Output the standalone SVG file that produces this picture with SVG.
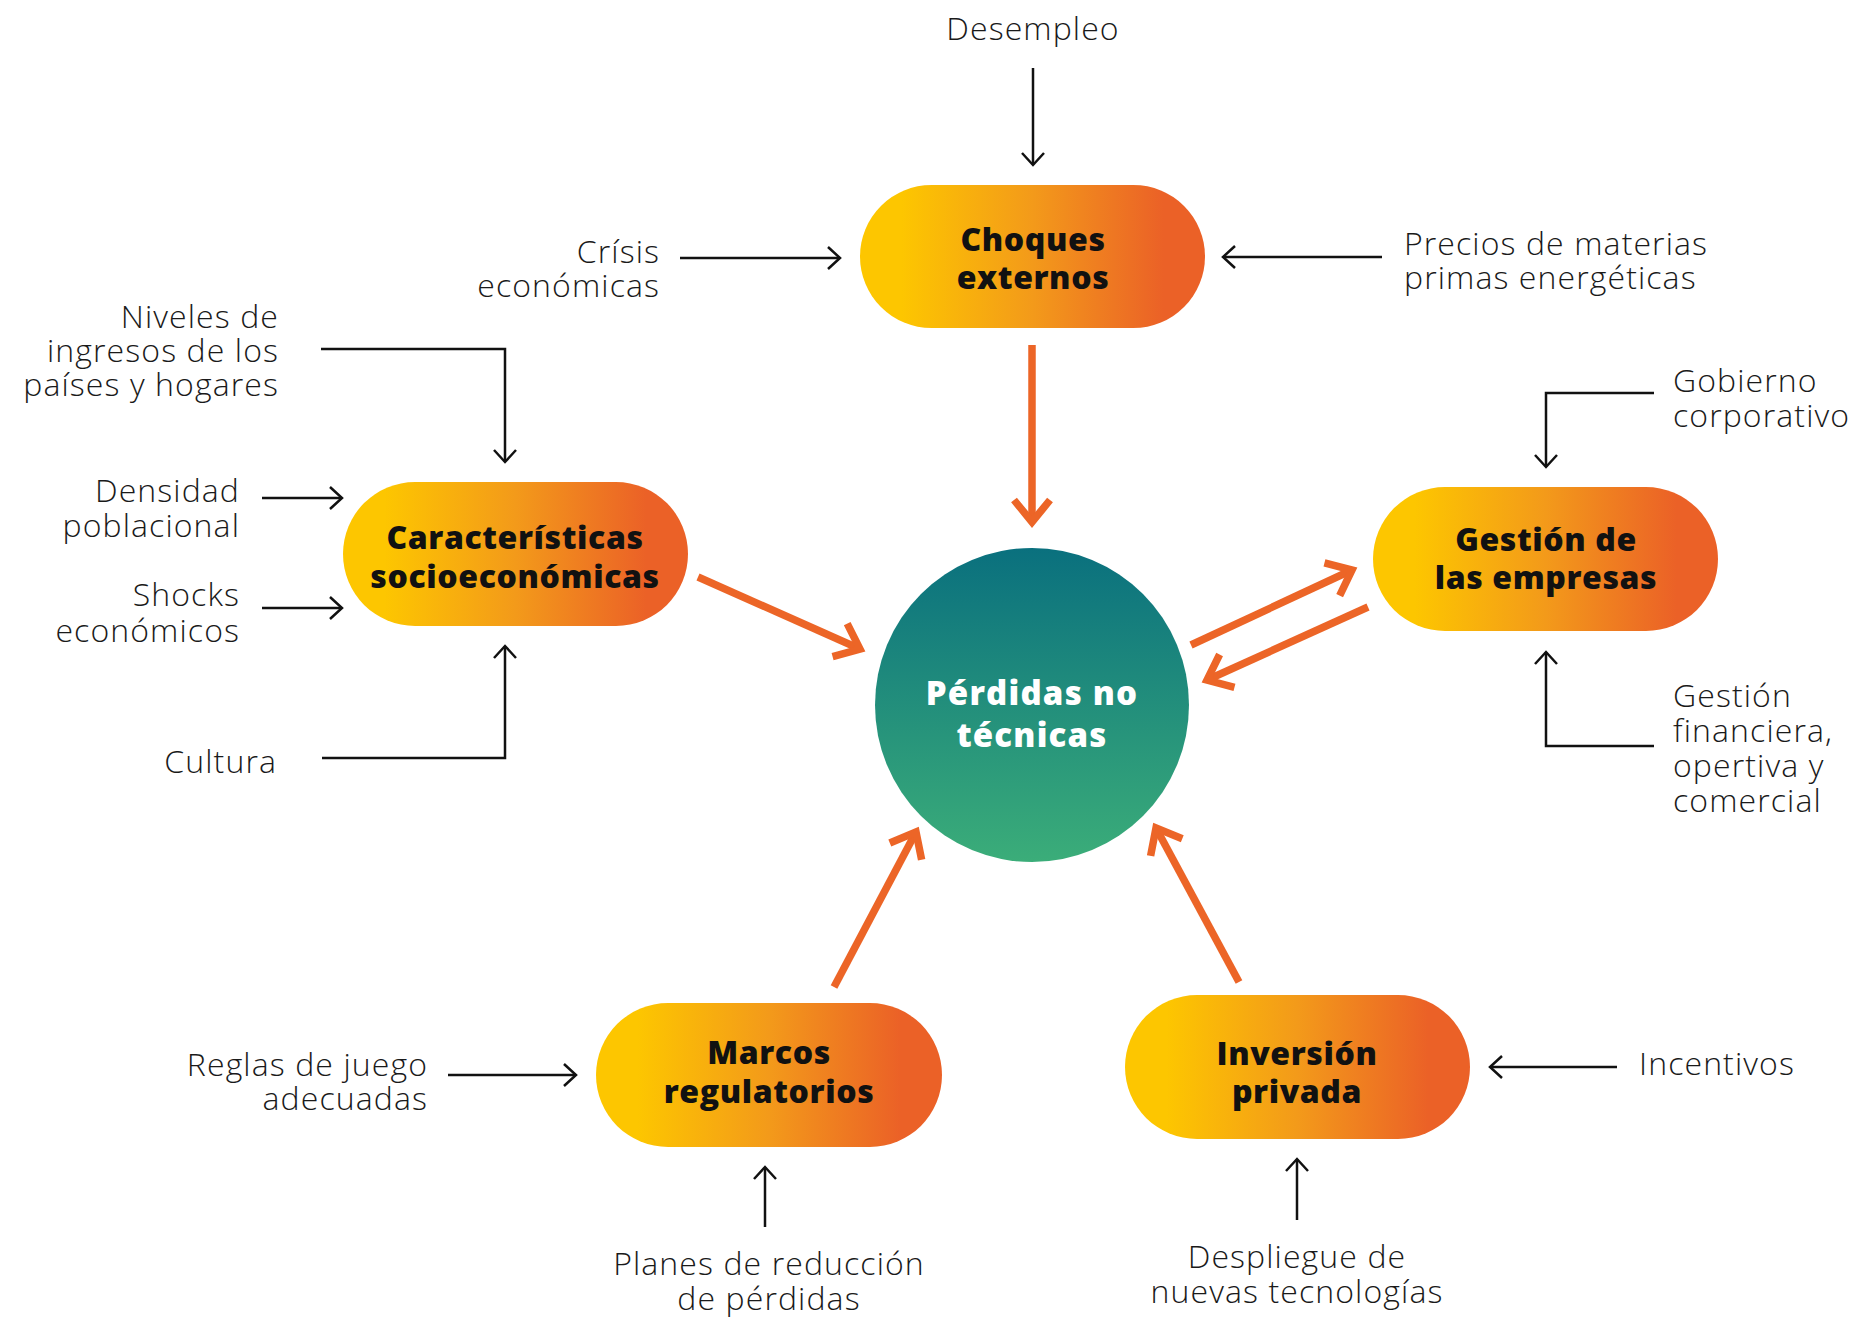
<svg xmlns="http://www.w3.org/2000/svg" width="1851" height="1317" viewBox="0 0 1851 1317">
<defs>
<linearGradient id="pillGrad" x1="0" y1="0" x2="1" y2="0">
<stop offset="0.12" stop-color="#FDC600"/>
<stop offset="0.5" stop-color="#F39A1A"/>
<stop offset="0.88" stop-color="#EB6127"/>
</linearGradient>
<linearGradient id="circGrad" x1="0" y1="0" x2="0" y2="1">
<stop offset="0" stop-color="#0A707E"/>
<stop offset="1" stop-color="#3BAD79"/>
</linearGradient>
<marker id="blackHead" markerUnits="userSpaceOnUse" viewBox="-16 -14 20 28" refX="0" refY="0" markerWidth="20" markerHeight="28" orient="auto">
<path d="M-12,-11 L0,0 L-12,11" fill="none" stroke="#111" stroke-width="2.5"/>
</marker>
<marker id="orangeHead" markerUnits="userSpaceOnUse" viewBox="-30 -26 40 52" refX="0" refY="0" markerWidth="40" markerHeight="52" orient="auto">
<path d="M-22,-18 L0,0 L-22,18" fill="none" stroke="#EC6527" stroke-width="7.5"/>
</marker>
</defs>
<style>
.pill{fill:url(#pillGrad);}
.ptxt{font-family:"Open Sans","Noto Sans",sans-serif;font-weight:800;font-size:32px;fill:#111;text-anchor:middle;letter-spacing:0.6px;}
.lbl{font-family:"Open Sans","Noto Sans",sans-serif;font-weight:300;font-size:32px;fill:#1a1a1a;letter-spacing:1.1px;}
.end{text-anchor:end;}
.mid{text-anchor:middle;}
.ctxt{font-family:"Open Sans","Noto Sans",sans-serif;font-weight:800;font-size:33px;fill:#fff;text-anchor:middle;letter-spacing:1.2px;}
.bl{fill:none;stroke:#111;stroke-width:2.5;marker-end:url(#blackHead);}
.or{fill:none;stroke:#EC6527;stroke-width:7.5;marker-end:url(#orangeHead);}
</style>
<rect width="1851" height="1317" fill="#fff"/>

<g id="connectors">
<path class="bl" d="M1033,68 V165"/>
<path class="bl" d="M680,258 H840"/>
<path class="bl" d="M1382,257 H1223"/>
<path class="bl" d="M321,349 H505 V462"/>
<path class="bl" d="M262,498 H342"/>
<path class="bl" d="M262,608 H342"/>
<path class="bl" d="M322,758 H505 V646"/>
<path class="bl" d="M1654,393 H1546 V467"/>
<path class="bl" d="M1654,746 H1546 V652"/>
<path class="bl" d="M448,1075 H576"/>
<path class="bl" d="M765,1227 V1167"/>
<path class="bl" d="M1617,1067 H1490"/>
<path class="bl" d="M1297,1220 V1159"/>
<path class="or" d="M1032,345 V522"/>
<path class="or" d="M698,577 L860,649"/>
<path class="or" d="M1191,645 L1352,570"/>
<path class="or" d="M1368,607 L1207,680"/>
<path class="or" d="M834,987 L916,832"/>
<path class="or" d="M1239,982 L1156,828"/>
</g>

<g id="center">
<circle cx="1032" cy="705" r="157" fill="url(#circGrad)"/>
<text class="ctxt" x="1032" y="705">Pérdidas no<tspan x="1032" dy="42">técnicas</tspan></text>
</g>

<g id="choques">
<rect class="pill" x="860" y="185" width="345" height="143" rx="71.5"/>
<text class="ptxt" x="1033" y="251">Choques<tspan x="1033" dy="38">externos</tspan></text>
</g>

<g id="caracteristicas">
<rect class="pill" x="343" y="482" width="345" height="144" rx="72"/>
<text class="ptxt" x="515" y="549">Características<tspan x="515" dy="39">socioeconómicas</tspan></text>
</g>

<g id="gestion">
<rect class="pill" x="1373" y="487" width="345" height="144" rx="72"/>
<text class="ptxt" x="1546" y="551">Gestión de<tspan x="1546" dy="38">las empresas</tspan></text>
</g>

<g id="marcos">
<rect class="pill" x="596" y="1003" width="346" height="144" rx="72"/>
<text class="ptxt" x="769" y="1064">Marcos<tspan x="769" dy="39">regulatorios</tspan></text>
</g>

<g id="inversion">
<rect class="pill" x="1125" y="995" width="345" height="144" rx="72"/>
<text class="ptxt" x="1297" y="1065">Inversión<tspan x="1297" dy="38">privada</tspan></text>
</g>

<g id="desempleo"><text class="lbl mid" x="1033" y="40">Desempleo</text></g>
<g id="crisis">
<text class="lbl end" x="660" y="263">Crísis<tspan x="660" dy="34">económicas</tspan></text>
</g>
<g id="precios">
<text class="lbl" x="1404" y="255">Precios de materias<tspan x="1404" dy="34">primas energéticas</tspan></text>
</g>
<g id="niveles">
<text class="lbl end" x="279" y="328">Niveles de<tspan x="279" dy="34">ingresos de los</tspan><tspan x="279" dy="34">países y hogares</tspan></text>
</g>
<g id="densidad">
<text class="lbl end" x="240" y="502">Densidad<tspan x="240" dy="35">poblacional</tspan></text>
</g>
<g id="shocks">
<text class="lbl end" x="240" y="606">Shocks<tspan x="240" dy="36">económicos</tspan></text>
</g>
<g id="cultura"><text class="lbl end" x="277" y="773">Cultura</text></g>
<g id="gobierno">
<text class="lbl" x="1673" y="392">Gobierno<tspan x="1673" dy="35">corporativo</tspan></text>
</g>
<g id="gestionfin">
<text class="lbl" x="1673" y="707">Gestión<tspan x="1673" dy="35">financiera,</tspan><tspan x="1673" dy="35">opertiva y</tspan><tspan x="1673" dy="35">comercial</tspan></text>
</g>
<g id="reglas">
<text class="lbl end" x="428" y="1076">Reglas de juego<tspan x="428" dy="34">adecuadas</tspan></text>
</g>
<g id="incentivos"><text class="lbl" x="1639" y="1075">Incentivos</text></g>
<g id="planes">
<text class="lbl mid" x="769" y="1275">Planes de reducción<tspan x="769" dy="35">de pérdidas</tspan></text>
</g>
<g id="despliegue">
<text class="lbl mid" x="1297" y="1268">Despliegue de<tspan x="1297" dy="35">nuevas tecnologías</tspan></text>
</g>
</svg>
